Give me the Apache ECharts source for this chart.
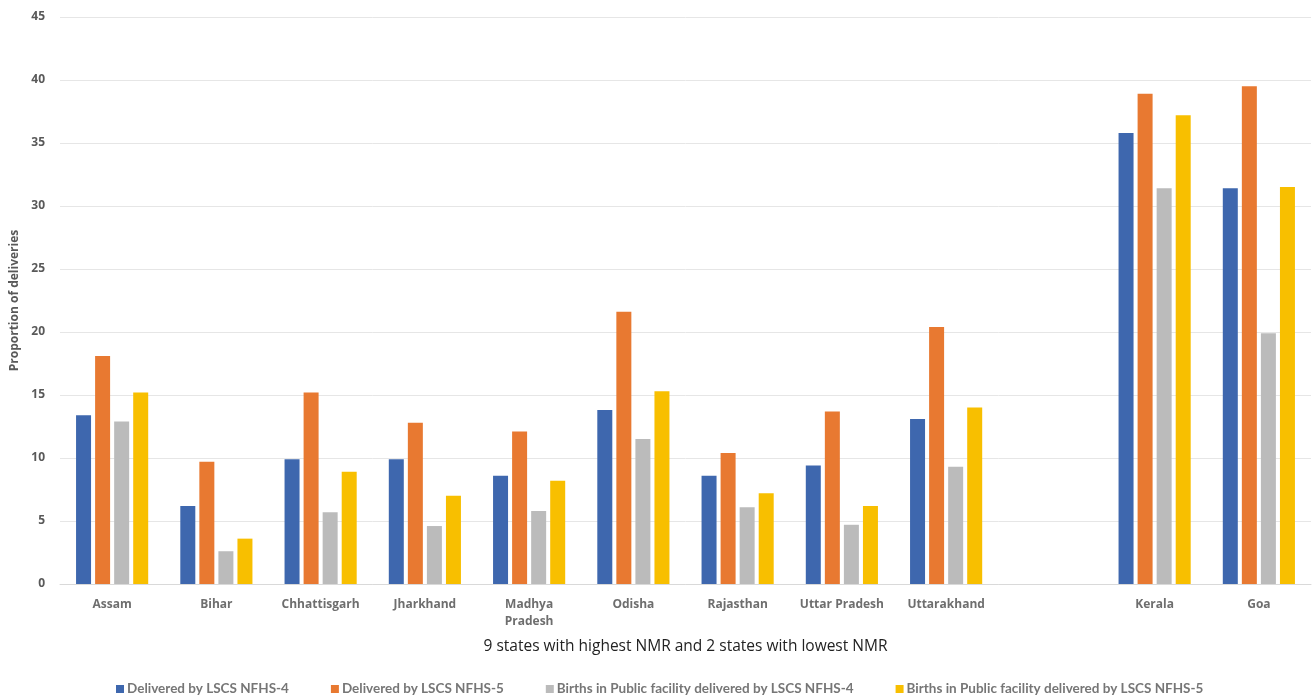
<!DOCTYPE html>
<html>
<head>
<meta charset="utf-8">
<script src="https://cdn.jsdelivr.net/npm/echarts@6/dist/echarts.min.js"></script>
<style>html,body{margin:0;padding:0;background:#fff}#c{width:1312px;height:697px}</style>
</head>
<body>
<div id="c"></div>
<script>
const categories = ['Assam','Bihar','Chhattisgarh','Jharkhand','Madhya\nPradesh','Odisha','Rajasthan','Uttar Pradesh','Uttarakhand','','Kerala','Goa'];
const seriesNames = ['Delivered by LSCS NFHS-4','Delivered by LSCS NFHS-5','Births in Public facility delivered by LSCS NFHS-4','Births in Public facility delivered by LSCS NFHS-5'];
const lscsNfhs4 = [13.4, 6.2, 9.9, 9.9, 8.6, 13.8, 8.6, 9.4, 13.1, null, 35.8, 31.4];
const lscsNfhs5 = [18.1, 9.7, 15.2, 12.8, 12.1, 21.6, 10.4, 13.7, 20.4, null, 38.9, 39.5];
const publicNfhs4 = [12.9, 2.6, 5.7, 4.6, 5.8, 11.5, 6.1, 4.7, 9.3, null, 31.4, 19.9];
const publicNfhs5 = [15.2, 3.6, 8.9, 7.0, 8.2, 15.3, 7.2, 6.2, 14.0, null, 37.2, 31.5];
const yTicks = {min: 0, max: 45, interval: 5};
const colors = ['#3e67ae', '#e87931', '#bbbbbb', '#f8bf00'];

const dataSets = [lscsNfhs4, lscsNfhs5, publicNfhs4, publicNfhs5];
const chart = echarts.init(document.getElementById('c'));
chart.setOption({
  animation: false,
  color: colors,
  textStyle: {fontFamily: 'Open Sans, Liberation Sans, sans-serif'},
  grid: {left: 60, right: 1, top: 17, bottom: 113, containLabel: false, outerBoundsMode: 'none'},
  legend: {
    left: 116, top: 682, padding: 0,
    itemWidth: 8, itemHeight: 8, itemGap: 42,
    icon: 'rect',
    textStyle: {color: '#767676', fontSize: 13.5, fontWeight: 'bold', fontFamily: 'Lato, Open Sans, sans-serif', padding: [0, 0, 0, -2]},
    data: seriesNames
  },
  xAxis: {
    type: 'category',
    data: categories,
    name: '9 states with highest NMR and 2 states with lowest NMR',
    nameLocation: 'middle',
    nameGap: 55,
    nameTextStyle: {color: '#222', fontSize: 15.5},
    axisLine: {lineStyle: {color: '#d9d9d9'}},
    axisTick: {show: false},
    axisLabel: {color: '#6e6e6e', fontSize: 12, fontWeight: 'bold', margin: 12, lineHeight: 17, interval: 0}
  },
  yAxis: {
    type: 'value',
    min: yTicks.min, max: yTicks.max, interval: yTicks.interval,
    name: 'Proportion of deliveries',
    nameLocation: 'middle',
    nameGap: 29,
    nameTextStyle: {color: '#595959', fontSize: 12, fontWeight: 'bold'},
    axisLine: {show: false},
    axisTick: {show: false},
    axisLabel: {color: '#595959', fontSize: 12, fontWeight: 'bold', margin: 15},
    splitLine: {lineStyle: {color: '#e6e6e6', width: 1}}
  },
  series: seriesNames.map((n, i) => ({
    name: n,
    type: 'bar',
    data: dataSets[i],
    barWidth: 15,
    barGap: '27%',
    itemStyle: {color: colors[i]}
  }))
});
</script>
</body>
</html>
